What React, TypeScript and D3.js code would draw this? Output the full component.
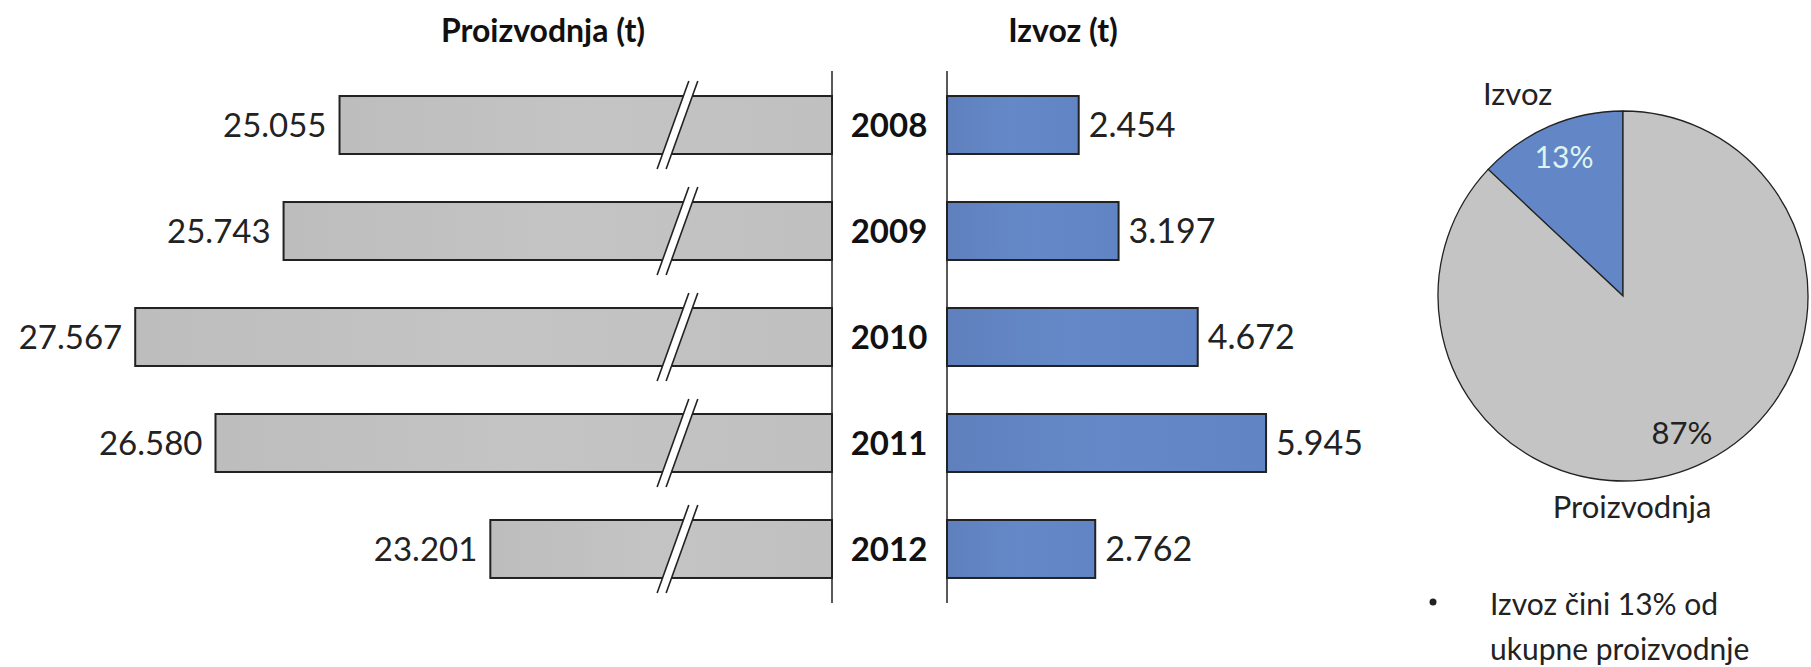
import React from "react";
import * as d3 from "d3";

const years = ["2008", "2009", "2010", "2011", "2012"];
const production = [25055, 25743, 27567, 26580, 23201];
const exportsT = [2454, 3197, 4672, 5945, 2762];
const productionLabels = ["25.055", "25.743", "27.567", "26.580", "23.201"];
const exportLabels = ["2.454", "3.197", "4.672", "5.945", "2.762"];
const pieNames = ["Izvoz", "Proizvodnja"];
const pieShares = [13, 87];
const titleLeft = "Proizvodnja (t)";
const titleRight = "Izvoz (t)";
const noteLines = ["Izvoz čini 13% od", "ukupne proizvodnje"];
const breakValue = 20900;

const W = 1811;
const H = 667;
const FONT = "Lato, 'Open Sans', sans-serif";

export default function App() {
  const prodX = d3.scaleLinear().domain([19000, 28000]).range([832, 100]);
  const expX = d3.scaleLinear().domain([0, 6000]).range([947, 1269]);
  const y = d3.scaleBand<string>().domain(years).range([48, 626]).paddingInner(0.453).paddingOuter(0.453);
  const bw = y.bandwidth();

  const cx = 1623, cy = 296, r = 185;
  const pie = d3
    .pie<number>()
    .sort(null)
    .startAngle(-2 * Math.PI * 0.13)
    .endAngle(2 * Math.PI * 0.87);
  const arcs = pie(pieShares);
  const arc = d3.arc<d3.PieArcDatum<number>>().innerRadius(0).outerRadius(r);
  const pieFill = ["#6386c6", "#c4c4c4"];

  const bx = prodX(breakValue);

  return (
    <svg width={W} height={H} style={{ position: "absolute", left: 0, top: 0, background: "#fff" }} fontFamily={FONT}>
      <defs>
        <linearGradient id="gGrey" x1="0" y1="0" x2="1" y2="0">
          <stop offset="0" stopColor="#bdbdbd" />
          <stop offset="0.5" stopColor="#c4c4c4" />
          <stop offset="1" stopColor="#c0c0c0" />
        </linearGradient>
        <linearGradient id="gBlue" x1="0" y1="0" x2="1" y2="0">
          <stop offset="0" stopColor="#5f80bd" />
          <stop offset="0.5" stopColor="#6589c8" />
          <stop offset="1" stopColor="#6185c4" />
        </linearGradient>
      </defs>
      <text x={543} y={42} textAnchor="middle" fontWeight="bold" fontSize={32} fill="#111">{titleLeft}</text>
      <text x={1063} y={42} textAnchor="middle" fontWeight="bold" fontSize={32} fill="#111">{titleRight}</text>

      {years.map((yr, i) => {
        const y0 = y(yr)!;
        const x0 = prodX(production[i]);
        const x1 = prodX(19000);
        const ex = expX(exportsT[i]);
        const ext = 15;
        const slope = 0.36;
        const top = y0 - ext, bot = y0 + bw + ext;
        const h = bot - top;
        const gap = 9;
        const p1 = [bx - (h * slope) / 2 - gap / 2, bot];
        const p2 = [bx + (h * slope) / 2 - gap / 2, top];
        const p3 = [bx + (h * slope) / 2 + gap / 2, top];
        const p4 = [bx - (h * slope) / 2 + gap / 2, bot];
        return (
          <g key={yr}>
            <rect x={x0} y={y0} width={x1 - x0} height={bw} fill="url(#gGrey)" stroke="#222" strokeWidth={2} />
            <polygon points={[p1, p2, p3, p4].map((p) => p.join(",")).join(" ")} fill="#fff" />
            <line x1={p1[0]} y1={p1[1]} x2={p2[0]} y2={p2[1]} stroke="#222" strokeWidth={1.6} />
            <line x1={p4[0]} y1={p4[1]} x2={p3[0]} y2={p3[1]} stroke="#222" strokeWidth={1.6} />
            <text x={x0 - 13} y={y0 + bw / 2} dy="0.36em" textAnchor="end" fontSize={33} fill="#222">{productionLabels[i]}</text>
            <text x={889} y={y0 + bw / 2} dy="0.36em" textAnchor="middle" fontWeight="bold" fontSize={33} fill="#111">{yr}</text>
            <rect x={expX(0)} y={y0} width={ex - expX(0)} height={bw} fill="url(#gBlue)" stroke="#222" strokeWidth={2} />
            <text x={ex + 10} y={y0 + bw / 2} dy="0.36em" textAnchor="start" fontSize={34} fill="#222">{exportLabels[i]}</text>
          </g>
        );
      })}

      <line x1={prodX(19000)} x2={prodX(19000)} y1={71} y2={603} stroke="#222" strokeWidth={1.5} />
      <line x1={expX(0)} x2={expX(0)} y1={71} y2={603} stroke="#222" strokeWidth={1.5} />

      <g transform={`translate(${cx},${cy})`}>
        {arcs.map((a, i) => (
          <path key={pieNames[i]} d={arc(a)!} fill={pieFill[i]} stroke="#222" strokeWidth={1.3} />
        ))}
      </g>
      <text x={1483} y={105} fontSize={31} fill="#222">{pieNames[0]}</text>
      <text x={1564} y={168} textAnchor="middle" fontSize={30} fill="#dff3f0">{pieShares[0]}%</text>
      <text x={1682} y={444} textAnchor="middle" fontSize={31} fill="#222">{pieShares[1]}%</text>
      <text x={1632} y={518} textAnchor="middle" fontSize={31} fill="#222">{pieNames[1]}</text>

      <circle cx={1433} cy={602} r={3.5} fill="#222" />
      {noteLines.map((t, i) => (
        <text key={t} x={1490} y={615 + i * 45} fontSize={30} fill="#222">{t}</text>
      ))}
    </svg>
  );
}
